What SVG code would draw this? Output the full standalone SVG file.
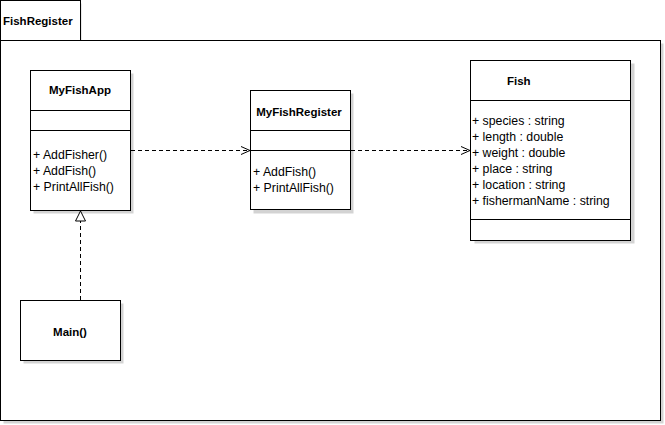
<svg xmlns="http://www.w3.org/2000/svg" width="665" height="425" viewBox="0 0 665 425">
<style>
.box{fill:#ffffff;stroke:#000000;stroke-width:1}
.sh{fill:#d3d3d3;stroke:none}
.ln{stroke:#000000;stroke-width:1;fill:none}
.t{font-family:"Liberation Sans",Arial,sans-serif;font-size:11.5px;font-weight:bold;fill:#000000}
.m{font-family:"Liberation Sans",Arial,sans-serif;font-size:12.3px;fill:#000000}
.dash{stroke:#000000;stroke-width:1;fill:none;stroke-dasharray:4,3}
</style>
<defs>
<marker id="open" markerWidth="12" markerHeight="12" refX="10" refY="5" orient="auto" markerUnits="userSpaceOnUse">
<path d="M1,1 L10,5 L1,9" fill="none" stroke="#000000" stroke-width="1"/>
</marker>
<marker id="tri" markerWidth="14" markerHeight="14" refX="11" refY="6" orient="auto" markerUnits="userSpaceOnUse">
<path d="M1,1 L11,6 L1,11 Z" fill="#ffffff" stroke="#000000" stroke-width="1"/>
</marker>
</defs>
<rect width="665" height="425" fill="#ffffff"/>
<g id="package">
<rect class="sh" x="3.5" y="3.5" width="78" height="37"/>
<rect class="sh" x="3.5" y="43.5" width="660" height="380"/>
<rect class="box" x="0.5" y="0.5" width="80" height="40"/>
<rect class="box" x="0.5" y="40.5" width="660" height="380"/>
<text class="t" x="3" y="25">FishRegister</text>
</g>
<g id="MyFishApp">
<rect class="sh" x="33.5" y="73.5" width="100" height="140"/>
<rect class="box" x="30.5" y="70.5" width="100" height="140"/>
<line class="ln" x1="30.5" y1="110.5" x2="130.5" y2="110.5"/>
<line class="ln" x1="30.5" y1="130.5" x2="130.5" y2="130.5"/>
<text class="t" x="80" y="94" text-anchor="middle">MyFishApp</text>
<text class="m" x="33" y="159">+ AddFisher()</text>
<text class="m" x="33" y="175">+ AddFish()</text>
<text class="m" x="33" y="191">+ PrintAllFish()</text>
</g>
<g id="MyFishRegister">
<rect class="sh" x="253.5" y="93.5" width="100" height="120"/>
<rect class="box" x="250.5" y="90.5" width="100" height="119"/>
<line class="ln" x1="250.5" y1="130.5" x2="350.5" y2="130.5"/>
<line class="ln" x1="250.5" y1="150.5" x2="350.5" y2="150.5"/>
<text class="t" x="299" y="116" text-anchor="middle">MyFishRegister</text>
<text class="m" x="253" y="176">+ AddFish()</text>
<text class="m" x="253" y="192">+ PrintAllFish()</text>
</g>
<g id="Fish">
<rect class="sh" x="474.5" y="63.5" width="160" height="180"/>
<rect class="box" x="470.5" y="60.5" width="160" height="180"/>
<line class="ln" x1="470.5" y1="100.5" x2="630.5" y2="100.5"/>
<line class="ln" x1="470.5" y1="219.5" x2="630.5" y2="219.5"/>
<text class="t" x="507" y="85">Fish</text>
<text class="m" x="472" y="125">+ species : string</text>
<text class="m" x="472" y="141">+ length : double</text>
<text class="m" x="472" y="157">+ weight : double</text>
<text class="m" x="472" y="173">+ place : string</text>
<text class="m" x="472" y="189">+ location : string</text>
<text class="m" x="472" y="205">+ fishermanName : string</text>
</g>
<g id="Main">
<rect class="sh" x="23.5" y="303.5" width="100" height="60"/>
<rect class="box" x="20.5" y="300.5" width="100" height="60"/>
<text class="t" x="70" y="336" text-anchor="middle">Main()</text>
</g>
<g id="connectors">
<line class="dash" x1="131" y1="150.5" x2="250" y2="150.5" marker-end="url(#open)"/>
<line class="dash" x1="351" y1="150.5" x2="470" y2="150.5" marker-end="url(#open)"/>
<line class="dash" x1="80.5" y1="300" x2="80.5" y2="211" marker-end="url(#tri)"/>
</g>
</svg>
